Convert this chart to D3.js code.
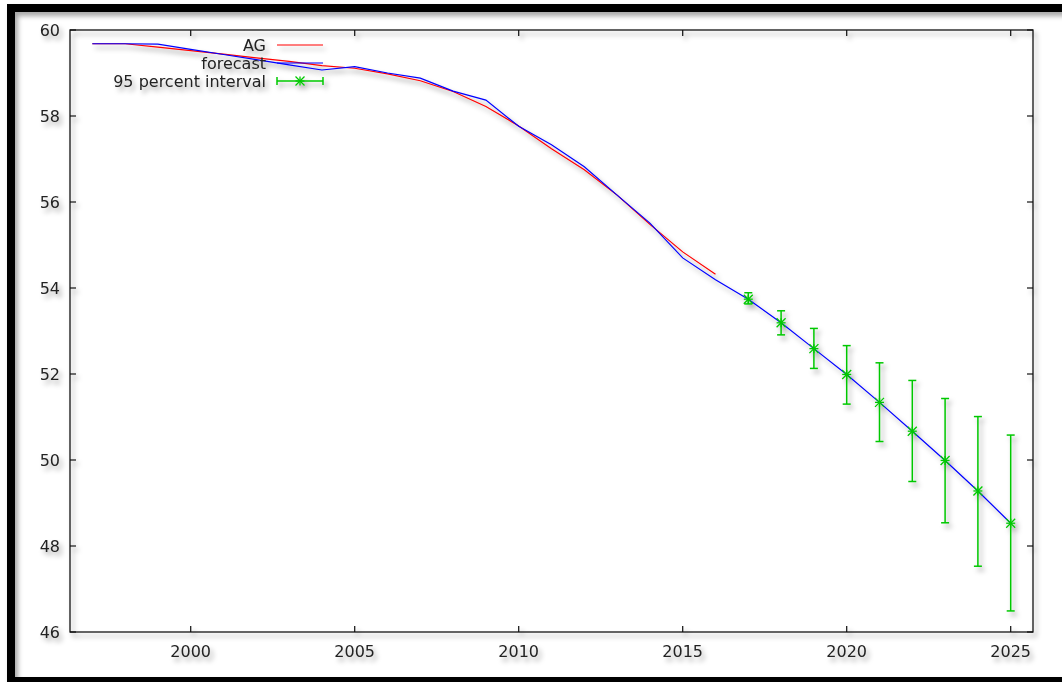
<!DOCTYPE html>
<html>
<head>
<meta charset="utf-8">
<script src="https://cdn.jsdelivr.net/npm/d3@7"></script>
<style>
  body { margin: 0; background: #fff; }
  svg { display: block; font-family: "DejaVu Sans", sans-serif; }
</style>
</head>
<body>
<div class="svg-container"></div>
<script>
// data
const agYears = d3.range(1997, 2017);
const agValues = [59.68, 59.68, 59.60, 59.52, 59.44, 59.35, 59.27, 59.17, 59.11, 58.98,
                  58.82, 58.57, 58.22, 57.77, 57.24, 56.75, 56.16, 55.48, 54.84, 54.32];

const fcYears = d3.range(1997, 2026);
const fcValues = [59.68, 59.68, 59.67, 59.55, 59.43, 59.31, 59.19, 59.07, 59.15, 59.00,
                  58.88, 58.58, 58.37, 57.76, 57.33, 56.82, 56.16, 55.51, 54.70, 54.19,
                  53.74, 53.19, 52.59, 51.99, 51.34, 50.67, 49.99, 49.28, 48.53];

const ciYears = d3.range(2017, 2026);
const ciCenter = [53.74, 53.19, 52.59, 51.99, 51.34, 50.67, 49.99, 49.28, 48.53];
const ciLow    = [53.63, 52.91, 52.13, 51.30, 50.43, 49.50, 48.54, 47.53, 46.49];
const ciHigh   = [53.89, 53.47, 53.06, 52.66, 52.26, 51.85, 51.43, 51.01, 50.58];

const xTicks = [2000, 2005, 2010, 2015, 2020, 2025];
const yTicks = [46, 48, 50, 52, 54, 56, 58, 60];

const legendLabels = ["AG", "forecast", "95 percent interval"];

const w = 1062, h = 682;
const margin = {top: 30, right: 29, bottom: 50, left: 70};
const colors = {ag: "#ff0000", fc: "#0000ff", ci: "#00c800"};

const svg = d3.select(".svg-container").append("svg")
    .attr("width", w).attr("height", h);

const defs = svg.append("defs");
defs.append("filter").attr("id", "shadow")
    .attr("x", "-10%").attr("y", "-10%").attr("width", "130%").attr("height", "130%")
  .append("feDropShadow")
    .attr("dx", 3).attr("dy", 4).attr("stdDeviation", 2.5)
    .attr("flood-color", "#000").attr("flood-opacity", 0.35);

const clip = defs.append("clipPath").attr("id", "page");
clip.append("rect").attr("width", w).attr("height", h);

// outer black frame
svg.append("g").attr("clip-path", "url(#page)")
  .append("rect")
    .attr("x", 11).attr("y", 8).attr("width", 1120).attr("height", 673)
    .style("fill", "none").style("stroke", "#000").style("stroke-width", 8)
    .attr("filter", "url(#shadow)");

const x = d3.scaleLinear().domain([1996.32, 2025.68]).range([margin.left, w - margin.right]);
const y = d3.scaleLinear().domain([46, 60]).range([h - margin.bottom, margin.top]);

const g = svg.append("g").attr("filter", "url(#shadow)");

// plot border
g.append("rect")
    .attr("x", x.range()[0]).attr("y", y.range()[1])
    .attr("width", x.range()[1] - x.range()[0]).attr("height", y.range()[0] - y.range()[1])
    .style("fill", "none").style("stroke", "#111").style("stroke-width", 1.3);

const tickLen = 6;
const axisStyle = sel => sel.style("stroke", "#111").style("stroke-width", 1.2);

xTicks.forEach(t => {
    g.append("line").attr("x1", x(t)).attr("x2", x(t))
        .attr("y1", y(46)).attr("y2", y(46) - tickLen).call(axisStyle);
    g.append("line").attr("x1", x(t)).attr("x2", x(t))
        .attr("y1", y(60)).attr("y2", y(60) + tickLen).call(axisStyle);
    g.append("text").attr("x", x(t)).attr("y", 651)
        .attr("text-anchor", "middle").attr("dominant-baseline", "central")
        .style("font-size", "16px").style("fill", "#222").text(t);
});

yTicks.forEach(t => {
    g.append("line").attr("x1", x.range()[0]).attr("x2", x.range()[0] + tickLen)
        .attr("y1", y(t)).attr("y2", y(t)).call(axisStyle);
    g.append("line").attr("x1", x.range()[1]).attr("x2", x.range()[1] - tickLen)
        .attr("y1", y(t)).attr("y2", y(t)).call(axisStyle);
    g.append("text").attr("x", 60).attr("y", y(t))
        .attr("text-anchor", "end").attr("dominant-baseline", "central")
        .style("font-size", "16px").style("fill", "#222").text(t);
});

const line = d3.line().x(d => x(d[0])).y(d => y(d[1]));

g.append("path").attr("d", line(d3.zip(agYears, agValues)))
    .style("fill", "none").style("stroke", colors.ag).style("stroke-width", 1.2);
g.append("path").attr("d", line(d3.zip(fcYears, fcValues)))
    .style("fill", "none").style("stroke", colors.fc).style("stroke-width", 1.2);

// error bars
const cap = 4, star = 4.5;
function drawStar(sel, cx, cy) {
    [[-star, 0, star, 0], [0, -star, 0, star], [-star, -star, star, star], [-star, star, star, -star]]
        .forEach(s => sel.append("line")
            .attr("x1", cx + s[0]).attr("y1", cy + s[1]).attr("x2", cx + s[2]).attr("y2", cy + s[3])
            .style("stroke", colors.ci).style("stroke-width", 1.3));
}
const ci = g.append("g");
ciYears.forEach((yr, i) => {
    const cx = x(yr);
    ci.append("line").attr("x1", cx).attr("x2", cx).attr("y1", y(ciLow[i])).attr("y2", y(ciHigh[i]))
        .style("stroke", colors.ci).style("stroke-width", 1.5);
    [ciLow[i], ciHigh[i]].forEach(v => ci.append("line")
        .attr("x1", cx - cap).attr("x2", cx + cap).attr("y1", y(v)).attr("y2", y(v))
        .style("stroke", colors.ci).style("stroke-width", 1.5));
    drawStar(ci, cx, y(ciCenter[i]));
});

// legend
const lx0 = 277, lx1 = 323, ly0 = 45, ldy = 18;
legendLabels.forEach((lab, i) => {
    const ly = ly0 + i * ldy;
    g.append("text").attr("x", 266).attr("y", ly)
        .attr("text-anchor", "end").attr("dominant-baseline", "central")
        .style("font-size", "16px").style("fill", "#222").text(lab);
    if (i < 2) {
        g.append("line").attr("x1", lx0).attr("x2", lx1).attr("y1", ly).attr("y2", ly)
            .style("stroke", i == 0 ? colors.ag : colors.fc).style("stroke-width", 1.2);
    } else {
        g.append("line").attr("x1", lx0).attr("x2", lx1).attr("y1", ly).attr("y2", ly)
            .style("stroke", colors.ci).style("stroke-width", 1.5);
        [lx0, lx1].forEach(xx => g.append("line").attr("x1", xx).attr("x2", xx)
            .attr("y1", ly - cap).attr("y2", ly + cap)
            .style("stroke", colors.ci).style("stroke-width", 1.5));
        drawStar(g, (lx0 + lx1) / 2, ly);
    }
});
</script>
</body>
</html>
